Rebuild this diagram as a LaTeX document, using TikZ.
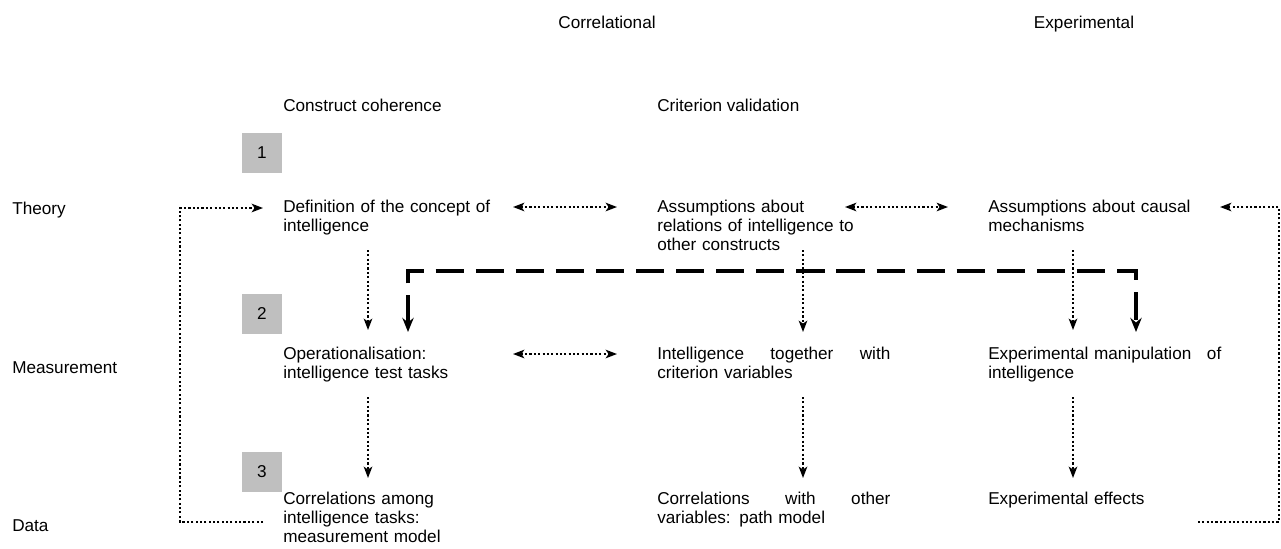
\documentclass[tikz,border=0pt]{standalone}
\usepackage{fontspec}
\setmainfont{Liberation Sans}
\usetikzlibrary{arrows.meta}

\begin{document}
\begin{tikzpicture}[
                x=0.025cm, y=-0.025cm,
                every node/.style={font=\fontsize{12.2}{13.8}\selectfont, inner sep=0pt},
                txt/.style={anchor=base west, text width=5.825cm, align=left},
                lbl/.style={anchor=base west},
                numbox/.style={fill=gray!50, minimum size=1cm},
                dots/.style={line width=1.5pt, dash pattern=on 1.5pt off 1.6pt},
                dotarrow/.style={dots, -{Stealth[length=8pt,width=6pt,inset=2pt]}},
                dotboth/.style={dots, {Stealth[length=8pt,width=6pt,inset=2pt]}-{Stealth[length=8pt,width=6pt,inset=2pt]}},
                link/.style={line width=2.5pt, dash pattern=on 20pt off 8.5pt,
                    {Stealth[length=10pt,width=8pt]}-{Stealth[length=10pt,width=8pt]}}
                ]
                \useasboundingbox (0,0) rectangle (1281,548);

                % Column headings
                \node[anchor=base] (corr) at (607,28) {Correlational};
                \node[anchor=base] (exper) at (1084,28) {Experimental};
                \node[lbl] (coher) at (283,111) {Construct coherence};
                \node[lbl] (valid) at (657,111) {Criterion validation};

                % Row labels and numbers
                \node[lbl] (theory) at (12,214) {Theory};
                \node[lbl] (meas) at (12,373) {Measurement};
                \node[lbl] (data) at (12,531) {Data};
                \node[numbox] (n1) at (262,153) {1};
                \node[numbox] (n2) at (262,314) {2};
                \node[numbox] (n3) at (262,472) {3};

                % Theory
                \node[txt] (def) at (283,212) {Definition of the concept of\\intelligence};
                \node[txt] (rel) at (657,212) {Assumptions about\\relations of intelligence to\\other constructs};
                \node[txt] (caus) at (988,212) {Assumptions about causal\\mechanisms};

                % Measurement
                \node[txt] (oper) at (283,359) {Operationalisation:\\intelligence test tasks};
                \node[txt] (crit) at (657,359) {Intelligence\hfill together\hfill with\\criterion variables};
                \node[txt] (manip) at (988,359) {Experimental manipulation\hfill of\\intelligence};

                % Data
                \node[txt] (mmod) at (283,504) {Correlations among\\intelligence tasks:\\measurement model};
                \node[txt] (pmod) at (657,504) {Correlations\hfill with\hfill other\\variables: path model};
                \node[txt] (eff) at (988,504) {Experimental effects};

                % arrow ends
                \coordinate (t1) at (513,207);
                \coordinate (t2) at (617,207);
                \coordinate (t3) at (845,207);
                \coordinate (t4) at (948,207);
                \coordinate (m1) at (513,354);
                \coordinate (m2) at (617,354);
                \coordinate (a1) at (368,250);
                \coordinate (a2) at (368,330);
                \coordinate (a3) at (368,397);
                \coordinate (a4) at (368,478);
                \coordinate (b1) at (803,250);
                \coordinate (b2) at (803,332);
                \coordinate (b3) at (803,397);
                \coordinate (b4) at (803,478);
                \coordinate (c1) at (1073,250);
                \coordinate (c2) at (1073,330);
                \coordinate (c3) at (1073,397);
                \coordinate (c4) at (1073,478);
                \coordinate (l1) at (263,522);
                \coordinate (l2) at (180,522);
                \coordinate (l3) at (180,208);
                \coordinate (l4) at (263,208);
                \coordinate (r1) at (1198,522);
                \coordinate (r2) at (1279,522);
                \coordinate (r3) at (1279,207);
                \coordinate (r4) at (1220,207);
                \coordinate (d1) at (408,332);
                \coordinate (d2) at (408,271);
                \coordinate (d3) at (1136,271);
                \coordinate (d4) at (1136,332);

                \draw[dotboth] (t1) -- (t2);
                \draw[dotboth] (t3) -- (t4);
                \draw[dotboth] (m1) -- (m2);
                \draw[dotarrow] (a1) -- (a2);
                \draw[dotarrow] (a3) -- (a4);
                \draw[dotarrow] (b1) -- (b2);
                \draw[dotarrow] (b3) -- (b4);
                \draw[dotarrow] (c1) -- (c2);
                \draw[dotarrow] (c3) -- (c4);
                \draw[dotarrow] (l1) -- (l2) -- (l3) -- (l4);
                \draw[dotarrow] (r1) -- (r2) -- (r3) -- (r4);
                \draw[link] (d1) -- (d2) -- (d3) -- (d4);
            \end{tikzpicture}
\end{document}
